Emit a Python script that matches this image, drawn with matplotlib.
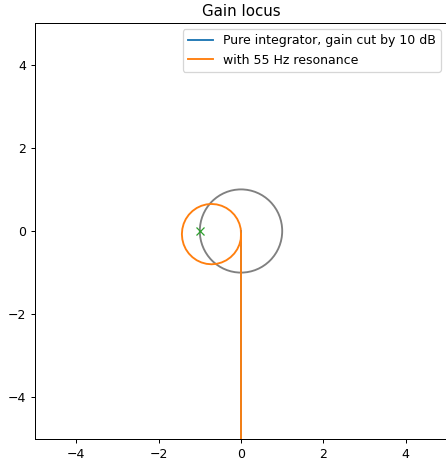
import numpy as np
import matplotlib.pyplot as plt

# pure integrator: runs straight down the imaginary axis
integ_re = [0.0, 0.0]
integ_im = [-60.0, 0.0]

# with 55 Hz resonance: same line, plus a loop near the origin
res_re = [0.0, 0.0, -0.006, -0.038, -0.091, -0.163, -0.252, -0.355, -0.469, -0.590,
          -0.715, -0.840, -0.961, -1.075, -1.178, -1.267, -1.339, -1.392, -1.424,
          -1.435, -1.424, -1.392, -1.339, -1.267, -1.178, -1.075, -0.961, -0.840,
          -0.715, -0.590, -0.469, -0.355, -0.252, -0.163, -0.091, -0.038, -0.006, 0.0]
res_im = [-60.0, -0.075, 0.051, 0.173, 0.288, 0.391, 0.480, 0.553, 0.606, 0.639,
          0.650, 0.639, 0.606, 0.553, 0.480, 0.391, 0.288, 0.173, 0.051,
          -0.075, -0.201, -0.323, -0.438, -0.541, -0.630, -0.703, -0.756, -0.789,
          -0.800, -0.789, -0.756, -0.703, -0.630, -0.541, -0.438, -0.323, -0.201, -0.075]

crit_re = [-1.0]
crit_im = [0.0]

fig = plt.figure(figsize=(446/90, 463/90), dpi=90)
ax = fig.add_axes([35/446, 24/463, 412/446, 416/463])

ax.add_patch(plt.Circle((0, 0), 1.0, fill=False, color='gray', lw=1.5))
ax.plot(integ_re, integ_im, color='C0', label='Pure integrator, gain cut by 10 dB')
ax.plot(res_re, res_im, color='C1', label='with 55 Hz resonance')
ax.plot(crit_re, crit_im, 'x', color='C2')

ax.set_xlim(-5, 5)
ax.set_ylim(-5, 5)
ax.set_xticks([-4, -2, 0, 2, 4])
ax.set_yticks([-4, -2, 0, 2, 4])
ax.set_title('Gain locus')
ax.legend(loc='upper right')

fig.savefig('out.png', dpi=90)
